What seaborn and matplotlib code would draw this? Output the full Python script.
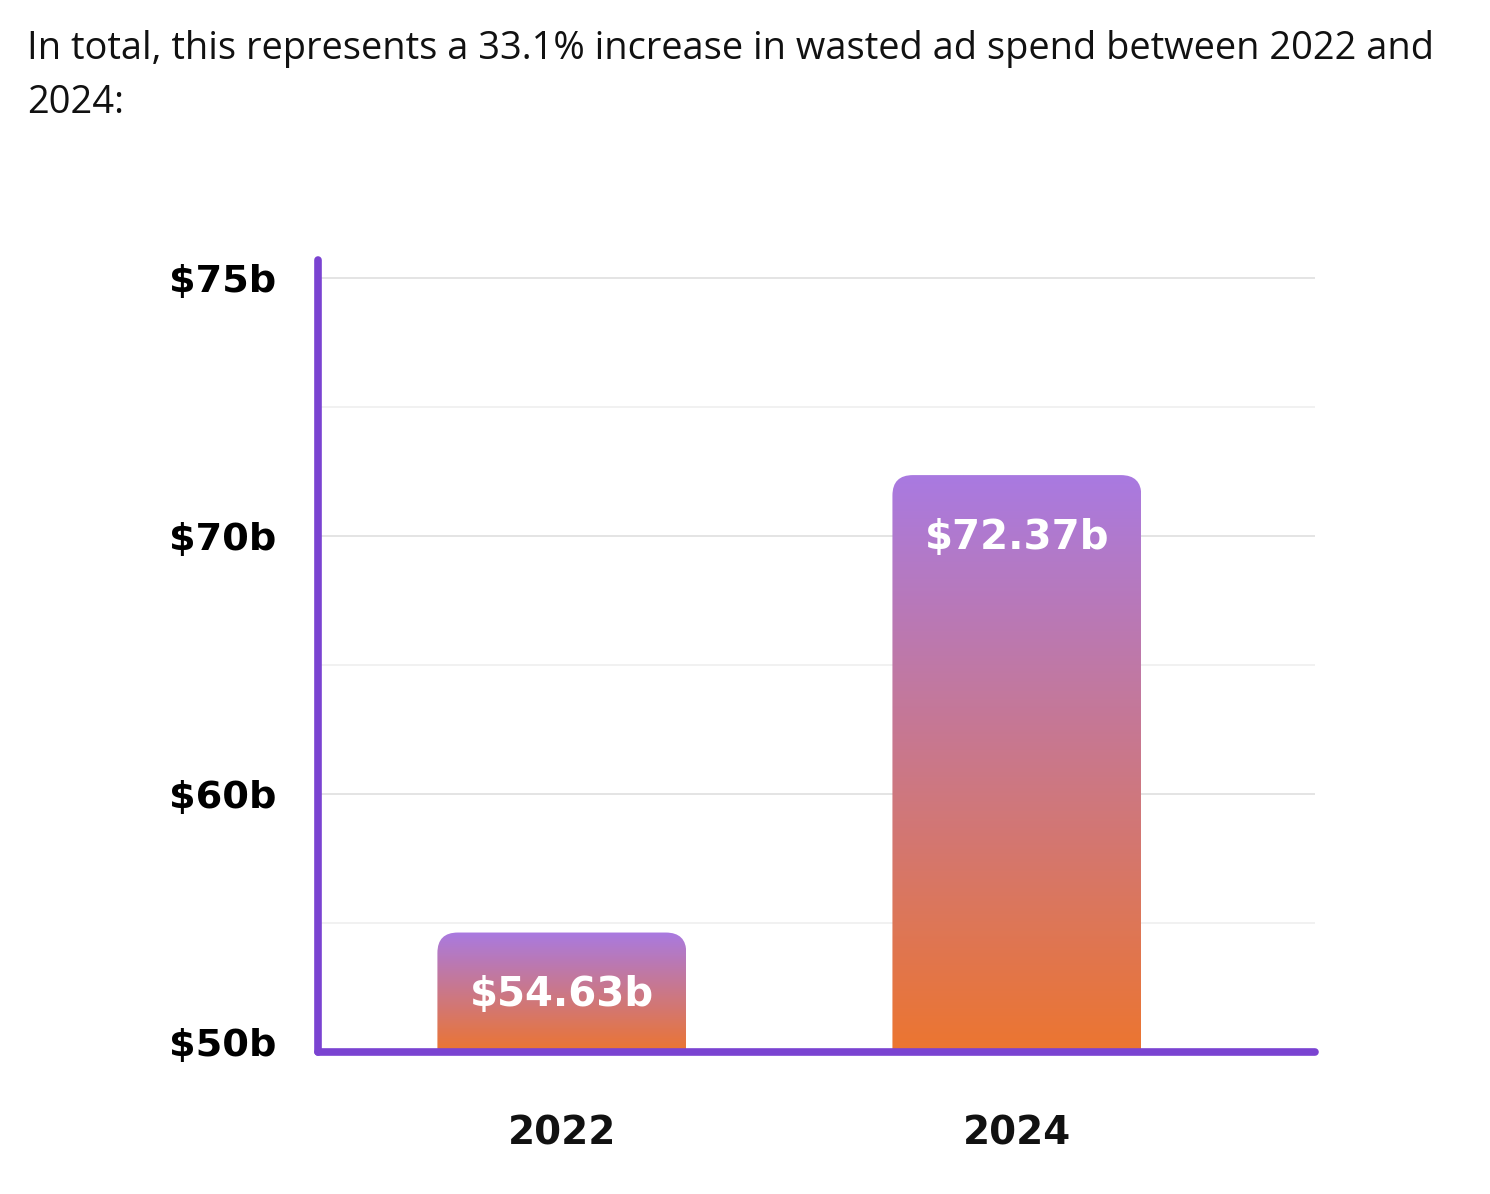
import numpy as np
import matplotlib
matplotlib.use("Agg")
import matplotlib.pyplot as plt
import matplotlib.transforms as mtransforms
import seaborn as sns
from matplotlib.patches import FancyBboxPatch
from matplotlib.colors import LinearSegmentedColormap

# data
years = ["2022", "2024"]
spend = [54.63, 72.37]
value_labels = ["$54.63b", "$72.37b"]
tick_values = [50, 60, 70, 80]
tick_labels = ["$50b", "$60b", "$70b", "$75b"]
minor_grid = [55, 65, 75]
caption = "In total, this represents a 33.1% increase in wasted ad spend between 2022 and\n2024:"

sns.set_theme(style="white")
plt.rcParams['font.family'] = ['Open Sans', 'DejaVu Sans']

purple = "#7a43d1"
grad = LinearSegmentedColormap.from_list("bar", ["#ec7530", "#a97ae1"])
bold_font = ['DejaVu Sans']

fig = plt.figure(figsize=(14.9, 11.94), dpi=100)
ax = fig.add_axes([0.2134, 0.119, 0.6691, 0.663])

sns.barplot(x=years, y=spend, ax=ax, width=0.547, color="#ec7530")

# gradient bars with rounded top
for p, val, lab in zip(ax.patches, spend, value_labels):
    x0, w = p.get_x(), p.get_width()
    p.set_visible(False)
    box = FancyBboxPatch((x0, 40), w, val - 40,
                         boxstyle="round,pad=0,rounding_size=0.045",
                         mutation_aspect=17.5, transform=ax.transData,
                         facecolor="none", edgecolor="none")
    ax.add_patch(box)
    img = ax.imshow(np.linspace(0, 1, 256).reshape(-1, 1), cmap=grad,
                    extent=[x0, x0 + w, 50, val], origin="lower",
                    aspect="auto", zorder=2)
    img.set_clip_path(box)
    ax.annotate(lab, (x0 + w / 2, val), xytext=(0, -45),
                textcoords="offset points", ha="center", va="center",
                color="white", fontsize=29, fontweight="bold",
                family=bold_font, zorder=3)

ax.set_aspect("auto")
ax.set_xlim(-0.536, 1.655)
ax.set_ylim(50, 80.7)

# grid
for g in tick_values[1:]:
    ax.axhline(g, color="#e4e4e4", lw=1.4, zorder=0)
for g in minor_grid:
    ax.axhline(g, color="#f1f1f1", lw=1.4, zorder=0)

ax.set_yticks(tick_values)
ax.set_yticklabels(tick_labels)
ax.tick_params(axis="y", length=0, pad=30, labelsize=27.5, labelcolor="black")
ax.tick_params(axis="x", length=0, pad=45, labelsize=28, labelcolor="#111111")
for t in ax.get_yticklabels() + ax.get_xticklabels():
    t.set_fontweight("bold")
    t.set_family(bold_font)

# lift the $50b label a little above the baseline
lbl = ax.get_yticklabels()[0]
lbl.set_transform(lbl.get_transform() + mtransforms.ScaledTranslation(0, 10 / 100, fig.dpi_scale_trans))

for s in ["top", "right"]:
    ax.spines[s].set_visible(False)
for s in ["left", "bottom"]:
    ax.spines[s].set_color(purple)
    ax.spines[s].set_linewidth(5.5)
    ax.spines[s].set_capstyle("round")
    ax.spines[s].set_zorder(4)

fig.text(27 / 1490, 1 - 30 / 1194, caption, ha="left", va="top",
         fontsize=27.4, color="#111111", linespacing=1.55)

fig.savefig("out.png", dpi=100)
